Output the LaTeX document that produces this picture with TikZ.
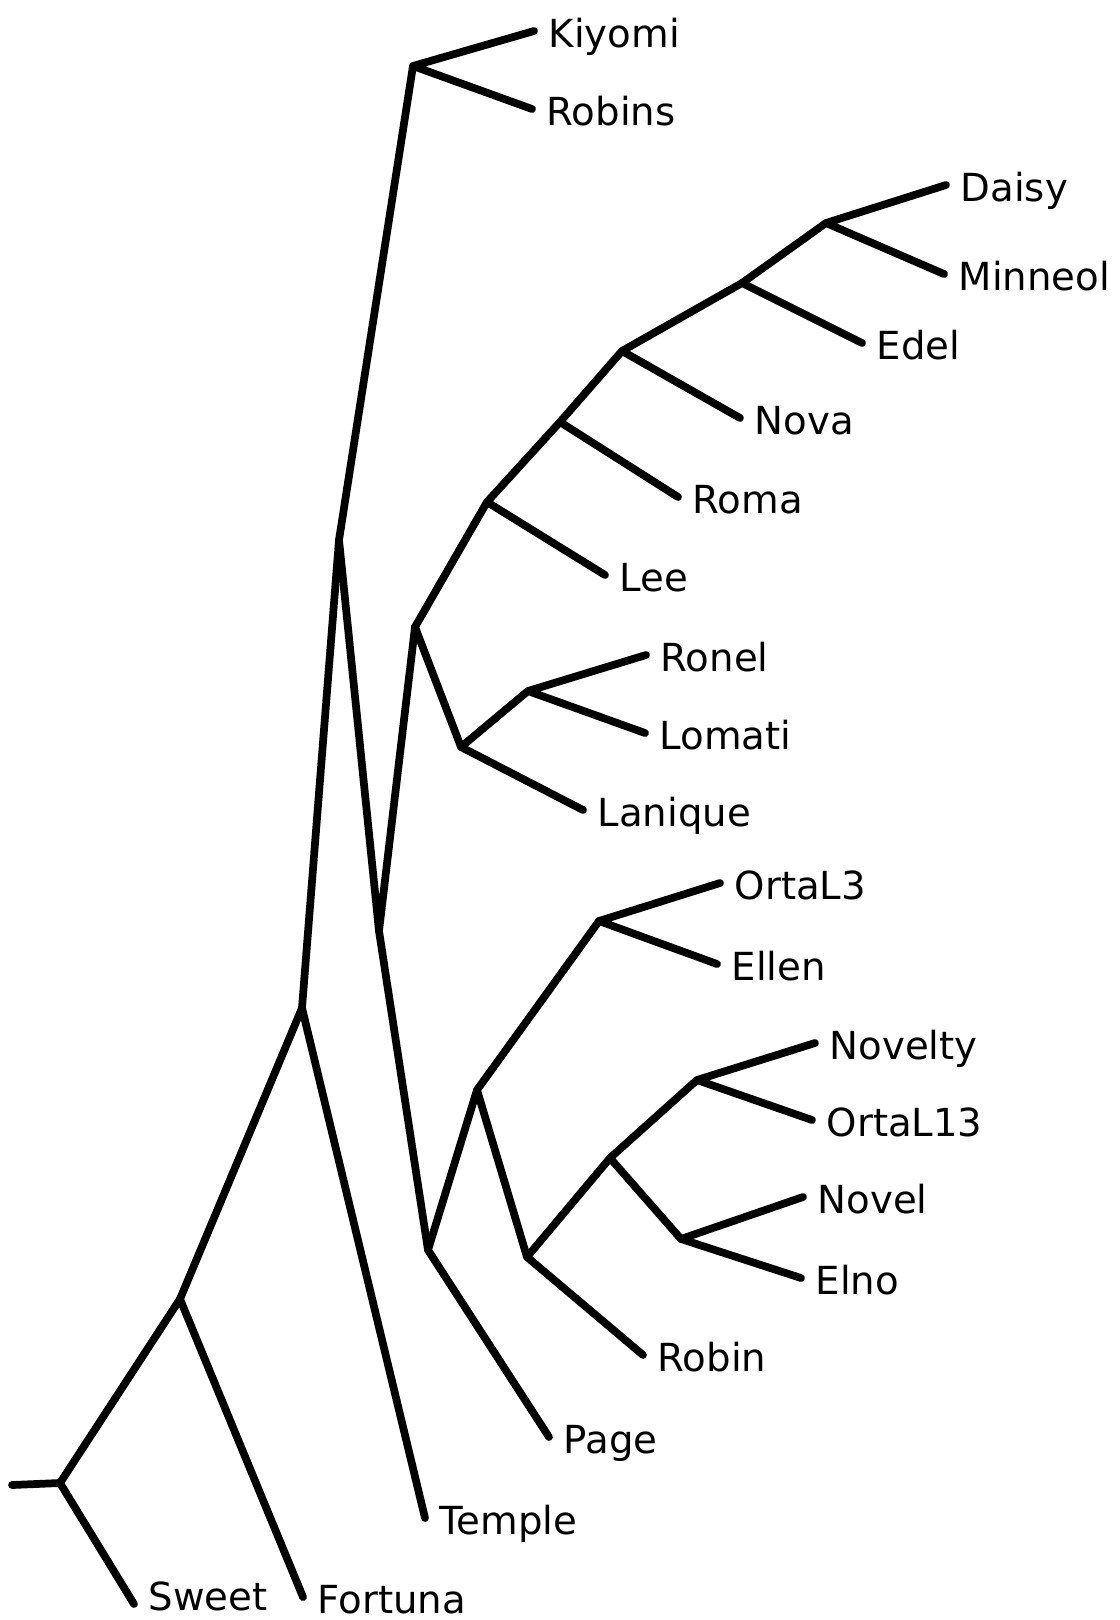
\documentclass[tikz,border=0pt]{standalone}
\usepackage{fontspec}
\setmainfont{DejaVu Sans}
\usetikzlibrary{positioning}
\tikzset{
  branch/.style={line width=2.2pt, line cap=round, line join=round},
  leaf/.style={font=\fontsize{11}{13}\selectfont, inner sep=0pt,
               text height=0.73em, text depth=0pt, yshift=-0.4mm},
}
% a tip of the tree with its name beside it
\newcommand{\Leaf}[4][]{%
  \coordinate (t#2) at (#3);
  \node[leaf, right=1.4mm of t#2, #1] (#2) {#4};}

\begin{document}
\begin{tikzpicture}[x=0.1mm, y=-0.1mm]
  \useasboundingbox (0,0) rectangle (1120,1620);

  % inner nodes
  \coordinate (stub)     at (12,1485);
  \coordinate (nRoot)    at (60,1483);
  \coordinate (nFortuna) at (180,1299);
  \coordinate (nTemple)  at (302,1008);
  \coordinate (nSplit)   at (339,540);
  \coordinate (nKiyomi)  at (413,66);
  \coordinate (nJoin)    at (379,931);
  \coordinate (nUpper)   at (415,627);
  \coordinate (nLee)     at (487,502);
  \coordinate (nRoma)    at (560,422);
  \coordinate (nNova)    at (622,351);
  \coordinate (nEdel)    at (742,283);
  \coordinate (nDaisy)   at (826,223);
  \coordinate (nLanique) at (461,747);
  \coordinate (nRonel)   at (528,691);
  \coordinate (nPage)    at (428,1250);
  \coordinate (nLower)   at (477,1090);
  \coordinate (nOrta)    at (599,921);
  \coordinate (nRobin)   at (527,1257);
  \coordinate (nNov)     at (610,1158);
  \coordinate (nNovelty) at (697,1080);
  \coordinate (nNovel)   at (681,1239);

  % tips
  \Leaf{Kiyomi}{534,31}{Kiyomi}
  \Leaf{Robins}{532,109}{Robins}
  \Leaf{Daisy}{946,185}{Daisy}
  \Leaf{Minneol}{944,274}{Minneol}
  \Leaf{Edel}{862,343}{Edel}
  \Leaf{Nova}{740,418}{Nova}
  \Leaf{Roma}{678,497}{Roma}
  \Leaf{Lee}{605,575}{Lee}
  \Leaf{Ronel}{646,655}{Ronel}
  \Leaf{Lomati}{645,733}{Lomati}
  \Leaf{Lanique}{583,810}{Lanique}
  \Leaf{OrtaL3}{720,883}{OrtaL3}
  \Leaf{Ellen}{717,964}{Ellen}
  \Leaf{Novelty}{815,1043}{Novelty}
  \Leaf{OrtaL13}{812,1120}{OrtaL13}
  \Leaf{Novel}{803,1197}{Novel}
  \Leaf{Elno}{801,1278}{Elno}
  \Leaf{Robin}{643,1355}{Robin}
  \Leaf{Page}{549,1437}{Page}
  \Leaf{Temple}{425,1518}{Temple}
  \Leaf{Fortuna}{303,1597}{Fortuna}
  \Leaf[yshift=1mm]{Sweet}{134,1604}{Sweet}

  % backbone
  \draw[branch] (stub) -- (nRoot) -- (tSweet);
  \draw[branch] (nRoot) -- (nFortuna) -- (tFortuna);
  \draw[branch] (nFortuna) -- (nTemple) -- (tTemple);
  \draw[branch] (nTemple) -- (nSplit) -- (nKiyomi);
  \draw[branch] (tKiyomi) -- (nKiyomi) -- (tRobins);
  \draw[branch] (nSplit) -- (nJoin) -- (nUpper);
  \draw[branch] (nJoin) -- (nPage) -- (tPage);

  % upper clade
  \draw[branch] (nUpper) -- (nLee) -- (tLee);
  \draw[branch] (nLee) -- (nRoma) -- (tRoma);
  \draw[branch] (nRoma) -- (nNova) -- (tNova);
  \draw[branch] (nNova) -- (nEdel) -- (tEdel);
  \draw[branch] (nEdel) -- (nDaisy);
  \draw[branch] (tDaisy) -- (nDaisy) -- (tMinneol);
  \draw[branch] (nUpper) -- (nLanique) -- (tLanique);
  \draw[branch] (nLanique) -- (nRonel);
  \draw[branch] (tRonel) -- (nRonel) -- (tLomati);

  % lower clade
  \draw[branch] (nPage) -- (nLower);
  \draw[branch] (nLower) -- (nOrta);
  \draw[branch] (tOrtaL3) -- (nOrta) -- (tEllen);
  \draw[branch] (nLower) -- (nRobin) -- (tRobin);
  \draw[branch] (nRobin) -- (nNov);
  \draw[branch] (nNov) -- (nNovelty);
  \draw[branch] (tNovelty) -- (nNovelty) -- (tOrtaL13);
  \draw[branch] (nNov) -- (nNovel);
  \draw[branch] (tNovel) -- (nNovel) -- (tElno);
\end{tikzpicture}
\end{document}
